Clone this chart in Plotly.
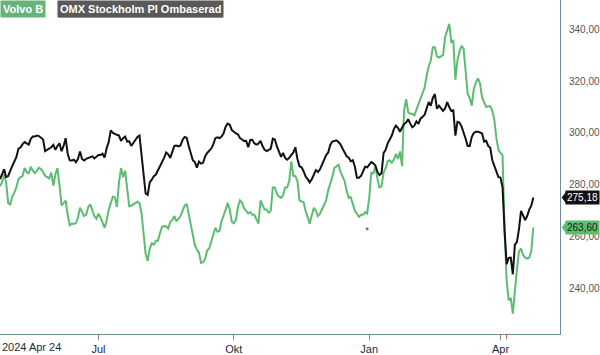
import pandas as pd
import plotly.graph_objects as go

start_date = "2024-04-24"

omx_rebased = [
    282.2, 284.5, 286, 283, 283.4, 285.5, 287.5, 289, 290.8, 294,
    294.4, 295.7, 296.5, 296, 295.5, 297.7, 298.6, 298.6, 299, 298.8,
    298, 297.5, 293, 293.5, 294, 294.5, 295.4, 293.5, 295, 296,
    293, 295, 298, 292, 289.5, 289.4, 289.7, 288.7, 290, 292.9,
    290, 289.4, 290, 290.4, 290.5, 291, 290.2, 291, 291.5, 291.5,
    292, 290.5, 294.2, 296.5, 301, 300, 299.5, 299.3, 299, 297,
    298, 298.6, 296.7, 296.8, 295, 296.1, 297.5, 298.5, 299, 292,
    284.1, 276.7, 276.2, 281, 282, 283.4, 284, 285.5, 286.8, 288.5,
    290.4, 292.5, 291.8, 290.4, 292.5, 295, 295.2, 294.8, 295.2, 297.3,
    298.5, 298.2, 295, 292, 289.5, 288.8, 286.6, 289, 288.2, 288.5,
    291, 292.3, 293.3, 294, 295.7, 298, 298.3, 298, 298.6, 299.9,
    302.4, 303.6, 303.2, 301.1, 300.5, 299.8, 299.5, 298, 297.5, 296.9,
    297, 294.5, 297.3, 297.4, 296, 295.5, 295.9, 297, 295, 293.5,
    293, 293.4, 294, 297.8, 297.5, 294.8, 293, 290.8, 292.3, 290.4,
    289.7, 290.4, 291.5, 292.5, 294.5, 290, 287.2, 286.8, 285.3, 283.2,
    282.2, 281, 282.2, 284.1, 285.7, 285, 286, 287.8, 289.5, 291.5,
    292.5, 295.4, 296.7, 297, 297.2, 296.5, 295.6, 294, 292.5, 291,
    290.5, 289.1, 289.5, 287, 282.8, 282.8, 283.5, 285.5, 287, 286.8,
    288, 288.8, 288.3, 287.5, 285, 283.8, 284.5, 292.3, 293.5, 296,
    297.5, 299, 301.5, 302.8, 302, 300.5, 302, 303.5, 304, 305.3,
    303.6, 302.2, 302.8, 304.5, 303.5, 305.5, 306.2, 307, 309.5, 311.9,
    310.5, 313.5, 315, 309.3, 310.5, 309.3, 308.5, 309.5, 311.9, 310,
    308.5, 308.7, 299, 304.3, 304, 302.5, 300.5, 297.8, 295, 295,
    298.5, 300, 300.5, 300.5, 300.2, 299.8, 296.7, 297, 295, 294.3,
    289.5, 287.5, 285, 283, 282.8, 279, 262, 249.5, 251.9, 252,
    245.6, 257, 258, 263, 270, 268.5, 266.5, 268, 270.5, 272,
    275.18,
]

volvo_b = [
    279.5, 281, 284, 281, 273, 272.5, 275.5, 277, 279.2, 282.2,
    283, 283.4, 286.5, 285, 284.5, 287, 285.5, 284.5, 285.5, 286.6,
    286, 285, 283.5, 283, 282.5, 284.7, 279.7, 284, 286.5, 280,
    272.1, 273, 274, 268.5, 264.5, 265.1, 265, 265.3, 267.5, 271.2,
    269.5, 268, 268.5, 271.4, 272.5, 270.5, 268, 267, 268.9, 267.5,
    265.5, 263.5, 266.4, 270.5, 273, 275.5, 275.2, 271.5, 281, 286.5,
    283, 285.5, 278.5, 271.8, 272, 272.5, 273, 273.5, 273, 269,
    261.3, 253.5, 250.8, 255.5, 257.5, 257, 258.5, 258.5, 261.5, 263.9,
    264.2, 264, 263.2, 265.8, 266.5, 268, 266, 267, 268, 270,
    272, 272.7, 268.5, 264, 260.5, 256.8, 255, 254, 250, 250.3,
    251.5, 254.8, 255.5, 258.5, 261.2, 263.5, 262, 262.3, 266, 268,
    270.5, 273, 270.5, 265.8, 265.2, 266.5, 271.5, 274, 273.2, 271,
    270, 269, 269.5, 268.5, 268.5, 267, 265.1, 274, 272.5, 270.5,
    270.5, 269.3, 270, 279, 279, 276.5, 275.5, 275, 276, 279,
    279, 281.5, 289.1, 283.5, 283.4, 281.5, 274, 273.5, 273.3, 270,
    267.8, 265, 268.3, 271.2, 270, 268, 268.9, 270.5, 272, 274,
    278, 280.3, 283, 286.5, 287.2, 287.8, 285, 283.5, 281.5, 277.7,
    275, 275.3, 273, 270, 268.9, 267.7, 268.5, 268.5, 269.5, 269,
    275, 284.7, 284.5, 287, 282.5, 279, 279.5, 284.7, 286.5, 289.1,
    289.5, 288.5, 289.7, 292, 290, 292.9, 287.2, 308.7, 313, 308,
    307.4, 307.4, 306.8, 309, 310.8, 313.1, 315.2, 317.5, 322, 325.7,
    327.8, 333, 333, 329.5, 329, 329.5, 330, 337, 339.6, 342,
    335, 335.5, 320.5, 328, 331.4, 333.5, 332.5, 325, 315, 313.5,
    310.5, 317, 319.5, 321, 319, 313.7, 312, 310, 310.3, 310.3,
    308.5, 305, 298, 293.5, 292.3, 291.5, 262, 243, 235.5, 236.5,
    230.4, 240.5, 247.5, 254.4, 255.5, 253, 252, 251.6, 252, 254.5,
    263.6,
]

event_dates = ["2024-12-31"]
event_values = [263.1]

x_tick_dates = ["2024-07-01", "2024-10-01", "2025-01-01", "2025-04-01"]
x_tick_text = ["Jul", "Okt", "Jan", "Apr"]
y_tick_vals = [240, 260, 280, 300, 320, 340]

dates = pd.bdate_range(start_date, periods=len(volvo_b))
x_end = pd.bdate_range(start_date, periods=len(volvo_b) + 13)[-1]

GREEN = "#5cbd72"
AXIS = "#6e8c9c"
FONT = "Liberation Sans, Arial, sans-serif"
PLOT_W, PLOT_H = 560, 339

fig = go.Figure()
fig.add_trace(go.Scatter(x=dates, y=volvo_b, mode="lines", name="Volvo B",
                         line=dict(color=GREEN, width=2)))
fig.add_trace(go.Scatter(x=dates, y=omx_rebased, mode="lines",
                         name="OMX Stockholm PI Ombaserad",
                         line=dict(color="#111111", width=2)))
fig.add_trace(go.Scatter(x=pd.to_datetime(event_dates), y=event_values, mode="markers",
                         marker=dict(color="#777777", size=3), showlegend=False))

fig.update_layout(
    width=600, height=355,
    margin=dict(l=0, r=40, t=0, b=16),
    paper_bgcolor="white", plot_bgcolor="white",
    showlegend=False,
    separators=", ",
    font=dict(family=FONT),
    xaxis=dict(
        type="date",
        rangebreaks=[dict(bounds=["sat", "mon"])],
        range=[dates[0], x_end],
        tickmode="array", tickvals=x_tick_dates, ticktext=x_tick_text,
        ticks="outside", ticklen=5, tickcolor=AXIS, tickwidth=1,
        showline=True, linecolor=AXIS, linewidth=1,
        showgrid=False, zeroline=False,
        tickfont=dict(size=11, color="#1e2a3a", family=FONT),
    ),
    yaxis=dict(
        side="right",
        range=[222.6, 351.2],
        tickmode="array", tickvals=y_tick_vals, tickformat=".2f",
        ticks="", showline=True, linecolor=AXIS, linewidth=1,
        showgrid=False, zeroline=False,
        ticklabelstandoff=6,
        tickfont=dict(size=10, color="#555555", family=FONT),
    ),
)

# start-date label at the left end of the time axis
fig.add_annotation(xref="paper", yref="paper", x=0, y=0, xanchor="left", yanchor="top",
                   yshift=-5, text="2024 Apr 24", showarrow=False,
                   font=dict(size=11, color="#1e2a3a", family=FONT))

# small red marker tick on the x axis
fig.add_shape(type="line", xref="x", yref="paper", x0="2025-04-04", x1="2025-04-04",
              y0=0, y1=-0.016, line=dict(color="#e05050", width=1))

# legend badges
fig.add_annotation(xref="paper", yref="paper", x=0, y=1, xanchor="left", yanchor="top",
                   text="<b>Volvo B</b>", showarrow=False, bgcolor="#66b47c",
                   borderpad=2, font=dict(size=11, color="white", family=FONT))
# dark drop shadow behind the second badge
fig.add_shape(type="rect", xref="paper", yref="paper",
              x0=59 / PLOT_W, x1=222 / PLOT_W, y0=1 - 17.5 / PLOT_H, y1=1 - 2 / PLOT_H,
              fillcolor="#111111", line=dict(width=0))
fig.add_annotation(xref="paper", yref="paper", x=0, y=1, xanchor="left", yanchor="top",
                   xshift=57, text="<b>OMX Stockholm PI Ombaserad</b>",
                   showarrow=False, bgcolor="#595959", borderpad=2,
                   font=dict(size=11, color="white", family=FONT))

# last-value price tags
for series, bg, fg in [(omx_rebased, "#111111", "white"), (volvo_b, GREEN, "#1a1a1a")]:
    v = series[-1]
    fig.add_annotation(xref="paper", yref="y", x=1, y=v, xanchor="left", yanchor="middle",
                       xshift=5, text=f"{v:.2f}".replace(".", ","), showarrow=False,
                       bgcolor=bg, borderpad=1, font=dict(size=10, color=fg, family=FONT))
    fig.add_shape(type="path", xref="paper", yref="y",
                  path=f"M 1.003,{v} L 1.011,{v + 2.3} L 1.011,{v - 2.3} Z",
                  fillcolor=bg, line=dict(width=0))

fig.write_html("out.html")
